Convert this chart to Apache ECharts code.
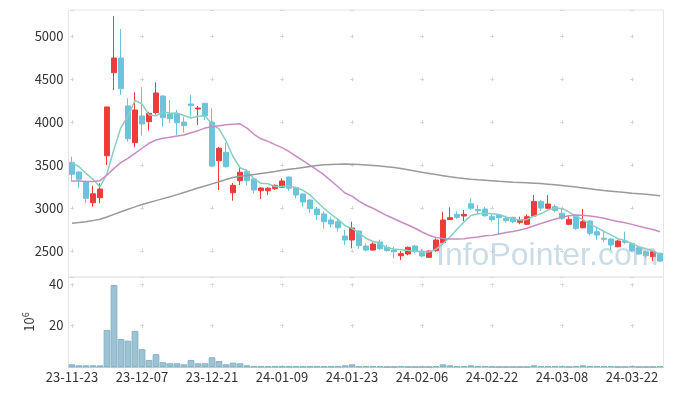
<!DOCTYPE html>
<html><head><meta charset="utf-8">
<script src="https://cdn.jsdelivr.net/npm/echarts@6/dist/echarts.min.js"></script>
<style>html,body{margin:0;padding:0;background:#fff}#c{width:673px;height:396px}</style>
</head><body><div id="c"></div>
<script>
const dates = ['23-11-23','23-11-24','23-11-27','23-11-28','23-11-29','23-11-30','23-12-01','23-12-04','23-12-05','23-12-06',
'23-12-07','23-12-08','23-12-11','23-12-12','23-12-13','23-12-14','23-12-15','23-12-18','23-12-19','23-12-20',
'23-12-21','23-12-22','23-12-26','23-12-27','23-12-28','24-01-02','24-01-03','24-01-04','24-01-05','24-01-08',
'24-01-09','24-01-10','24-01-11','24-01-12','24-01-15','24-01-16','24-01-17','24-01-18','24-01-19','24-01-22',
'24-01-23','24-01-24','24-01-25','24-01-26','24-01-29','24-01-30','24-01-31','24-02-01','24-02-02','24-02-05',
'24-02-06','24-02-07','24-02-08','24-02-13','24-02-14','24-02-15','24-02-16','24-02-19','24-02-20','24-02-21',
'24-02-22','24-02-23','24-02-26','24-02-27','24-02-28','24-02-29','24-03-04','24-03-05','24-03-06','24-03-07',
'24-03-08','24-03-11','24-03-12','24-03-13','24-03-14','24-03-15','24-03-18','24-03-19','24-03-20','24-03-21',
'24-03-22','24-03-25','24-03-26','24-03-27','24-03-28'];

const openP = [3531,3418,3305,3061,3119,3608,4576,4747,4188,3760,4071,4005,4110,4304,4094,4098,4001,4211,4153,4219,
3998,3550,3648,3177,3317,3427,3337,3200,3200,3224,3240,3360,3236,3162,3092,2987,2929,2859,2839,2672,
2626,2731,2556,2509,2603,2541,2509,2443,2463,2556,2498,2424,2501,2595,2863,2925,2906,3049,2983,2987,
2898,2917,2879,2890,2832,2809,2906,3076,2995,3014,2937,2809,2902,2769,2847,2723,2646,2638,2548,2614,
2587,2537,2490,2432,2471];
const closeP = [3392,3333,3112,3165,3220,4176,4747,4389,3807,4141,3978,4102,4339,4051,4040,3993,3958,4191,4164,4071,
3488,3695,3480,3263,3415,3317,3209,3232,3230,3263,3314,3230,3150,3069,2991,2921,2839,2812,2769,2626,
2766,2560,2509,2579,2525,2502,2490,2467,2541,2490,2440,2498,2626,2859,2886,2890,2925,2995,2967,2909,
2863,2886,2851,2839,2855,2898,3076,2998,3045,2971,2879,2867,2762,2839,2704,2684,2634,2568,2614,2599,
2502,2463,2443,2490,2381];
const lowP = [3305,3230,3054,3014,3054,3500,4374,4316,3772,3706,3842,3900,4090,3946,3986,3850,3877,4063,3966,4024,
3473,3209,3470,3084,3267,3263,3170,3104,3150,3210,3235,3195,3112,3014,2937,2859,2758,2774,2723,2568,
2529,2522,2494,2500,2510,2490,2413,2393,2447,2470,2425,2420,2490,2590,2860,2870,2847,2976,2925,2898,
2839,2684,2830,2820,2809,2800,2900,2964,2985,2950,2860,2800,2743,2760,2680,2626,2599,2509,2540,2580,
2490,2455,2420,2381,2370];
const highP = [3597,3430,3320,3259,3287,4180,5237,5085,4277,4347,4406,4120,4464,4310,4258,4141,4063,4316,4188,4222,
4161,3710,3760,3290,3473,3450,3345,3240,3240,3275,3345,3365,3245,3170,3100,3010,2960,2898,2879,2743,
2839,2740,2587,2600,2630,2570,2548,2498,2550,2570,2520,2505,2646,2956,3007,2960,2976,3112,3034,3014,
2925,2930,2910,2895,2898,2925,3150,3090,3150,3040,2995,2917,2910,2987,2855,2781,2723,2645,2630,2723,
2595,2555,2505,2500,2480];

const ma5 = [3524,3480,3403,3333,3244,3401,3684,3939,4068,4252,4212,4083,4073,4122,4102,4105,4076,4047,4069,4075,
3974,3922,3780,3599,3468,3434,3337,3287,3281,3250,3250,3254,3237,3205,3151,3072,2994,2926,2866,2793,
2762,2707,2646,2608,2588,2535,2521,2513,2505,2498,2486,2487,2519,2583,2662,2752,2837,2911,2933,2937,
2932,2924,2895,2870,2859,2866,2904,2933,2974,2998,2994,2952,2905,2864,2810,2771,2725,2686,2641,2620,
2583,2549,2524,2499,2456];
const ma20 = [3313,3313,3309,3309,3317,3383,3461,3531,3578,3636,3695,3753,3791,3811,3823,3838,3850,3875,3900,3930,
3945,3958,3970,3976,3980,3930,3858,3805,3775,3738,3702,3657,3602,3550,3495,3442,3385,3316,3246,3174,
3138,3080,3031,2996,2952,2911,2874,2836,2801,2763,2719,2682,2656,2645,2639,2638,2642,2651,2661,2675,
2680,2696,2713,2726,2743,2763,2792,2819,2845,2869,2891,2909,2916,2915,2906,2895,2880,2859,2841,2826,
2808,2786,2766,2748,2723];
const ma60 = [2820,2830,2840,2852,2868,2895,2925,2955,2985,3012,3040,3062,3085,3108,3130,3155,3180,3205,3232,3255,
3280,3305,3330,3355,3368,3378,3390,3402,3413,3425,3440,3450,3458,3470,3482,3493,3502,3507,3510,3511,
3509,3506,3501,3495,3488,3480,3470,3458,3444,3430,3415,3402,3388,3375,3362,3352,3343,3335,3328,3322,
3316,3310,3305,3300,3296,3292,3288,3283,3277,3270,3262,3253,3243,3233,3223,3213,3203,3195,3187,3180,
3172,3165,3158,3150,3142];

const volume = [1.3,0.8,0.8,0.8,0.8,17.9,39.5,13.5,12.7,17.4,8.6,3.4,6.2,2.3,1.8,1.8,1.3,3.4,1.8,1.8,
4.7,2.9,1.3,2.1,1.8,0.8,0.3,0.3,0.3,0.3,0.3,0.3,0.3,0.3,0.3,0.3,0.3,0.3,0.3,0.8,
1.3,0.4,0.4,0.4,0.4,0.1,0.1,0.4,0.1,0.1,0.1,0.1,0.4,1.3,0.8,0.4,0.4,0.8,0.4,0.4,
0.1,0.1,0.1,0.1,0.1,0.1,0.8,0.4,0.4,0.4,0.4,0.1,0.4,0.8,0.4,0.4,0.4,0.4,0.1,0.1,
0.4,0.1,0.1,0.1,0.4];

const candles = dates.map((d, i) => [openP[i], closeP[i], lowP[i], highP[i]]);

const chart = echarts.init(document.getElementById('c'), null, {renderer: 'canvas'});
const gridCol = '#e6e6e6';
const crossCol = '#d8d8d8';
const fam = 'Noto Sans CJK KR, Noto Sans, sans-serif';
const labelFont = {color: '#333', fontSize: 13, fontFamily: fam};
const plain = v => String(v);
chart.setOption({
  animation: false,
  backgroundColor: '#fff',
  grid: [
    {left: 68.5, right: 9.5, top: 10, height: 267, show: true, borderColor: gridCol, borderWidth: 1},
    {left: 68.5, right: 9.5, top: 277, height: 90, show: true, borderColor: gridCol, borderWidth: 1}
  ],
  xAxis: [
    {type: 'category', gridIndex: 0, data: dates, boundaryGap: true,
     axisLine: {show: false}, axisTick: {show: false}, axisLabel: {show: false, interval: 9},
     splitLine: {show: true, interval: 9, alignWithLabel: true,
       lineStyle: {color: crossCol, width: 1, type: [4, 38.9], dashOffset: 18.6}}},
    {type: 'category', gridIndex: 1, data: dates, boundaryGap: true,
     axisLine: {show: true, lineStyle: {color: '#c8c8c8'}}, axisTick: {show: false},
     axisLabel: Object.assign({interval: 9, margin: 4}, labelFont),
     splitLine: {show: true, interval: 9, alignWithLabel: true,
       lineStyle: {color: crossCol, width: 1, type: [4, 37], dashOffset: 35}}}
  ],
  yAxis: [
    {type: 'value', gridIndex: 0, min: 2195, max: 5306, scale: true,
     axisLine: {show: false}, axisTick: {show: false},
     axisLabel: Object.assign({margin: 5, showMinLabel: false, showMaxLabel: false, formatter: plain}, labelFont),
     splitLine: {show: true, lineStyle: {color: crossCol, width: 1, type: [4, 66], dashOffset: 68.5}}},
    {type: 'value', gridIndex: 1, min: 0, max: 43.4, interval: 20,
     axisLine: {show: false}, axisTick: {show: false},
     axisLabel: Object.assign({margin: 5, showMinLabel: false, showMaxLabel: false, formatter: plain}, labelFont),
     splitLine: {show: true, lineStyle: {color: crossCol, width: 1, type: [4, 66], dashOffset: 68.5}},
     name: '{a|10}{b|6}', nameLocation: 'middle', nameRotate: 90, nameGap: 31,
     nameTextStyle: {rich: {
       a: {fontSize: 13, color: '#333', fontFamily: fam, lineHeight: 16},
       b: {fontSize: 9, color: '#333', fontFamily: fam, verticalAlign: 'top', lineHeight: 16, padding: [0,0,6,0]}
     }}}
  ],
  series: [
    {type: 'candlestick', xAxisIndex: 0, yAxisIndex: 0, data: candles, barWidth: 5,
     itemStyle: {color: '#ee3b3b', color0: '#6cc4da', borderColor: '#ee3b3b', borderColor0: '#6cc4da', borderWidth: 1}},
    {type: 'line', xAxisIndex: 0, yAxisIndex: 0, data: ma5, symbol: 'none', silent: true,
     lineStyle: {color: '#88cfc2', width: 1.5}},
    {type: 'line', xAxisIndex: 0, yAxisIndex: 0, data: ma20, symbol: 'none', silent: true,
     lineStyle: {color: '#c98cc6', width: 1.5}},
    {type: 'line', xAxisIndex: 0, yAxisIndex: 0, data: ma60, symbol: 'none', silent: true,
     lineStyle: {color: '#9a9a9a', width: 1.5}},
    {type: 'bar', xAxisIndex: 1, yAxisIndex: 1, data: volume, barCategoryGap: '4%',
     itemStyle: {color: '#9cc3d3', borderColor: '#86b1c4', borderWidth: 1}}
  ],
  graphic: [
    {type: 'text', left: 436, top: 240, z: 100, silent: true,
     style: {text: 'InfoPointer.com', font: '32px "Liberation Sans", Arial, sans-serif', fill: 'rgba(150,185,210,0.5)'}}
  ]
});
</script></body></html>
